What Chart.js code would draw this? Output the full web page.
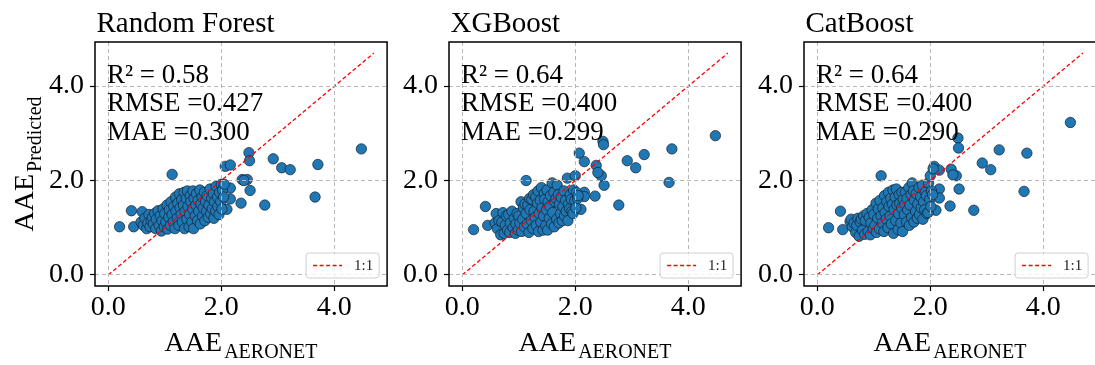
<!DOCTYPE html>
<html>
<head>
<meta charset="utf-8">
<script src="https://cdn.jsdelivr.net/npm/chart.js@4.4.0/dist/chart.umd.min.js"></script>
<style>
html,body{margin:0;padding:0;background:#fff;overflow:hidden;width:1095px;height:365px;}
.pn{position:absolute;top:0;width:393px;height:365px;}
canvas{display:block;}
</style>
</head>
<body>
<div class="pn" style="left:0px"><canvas id="c0" width="393" height="365"></canvas></div>
<div class="pn" style="left:354.3px"><canvas id="c1" width="393" height="365"></canvas></div>
<div class="pn" style="left:709px"><canvas id="c2" width="393" height="365"></canvas></div>
<script>
// ---- data ----
const modelNames = ['Random Forest', 'XGBoost', 'CatBoost'];
const r2Values   = ['0.58', '0.64', '0.64'];
const rmseValues = ['0.427', '0.400', '0.400'];
const maeValues  = ['0.300', '0.299', '0.290'];
const tickValues = [0, 2, 4];
const oneToOne   = [0, 4.7];
const axisMin = -0.235, axisMax = 4.935;

// observed AAE (shared x for all three models)
const aaeAeronet = [
  0.20, 0.41, 0.45, 1.13, 2.07, 2.16, 2.49, 2.50, 2.92, 3.07, 3.22, 3.71, 4.48, 3.66, 2.77, 2.51, 2.35, 2.37, 2.46, 2.16, 2.16, 2.10, 2.40,
  0.58, 0.60, 0.62, 0.65, 0.68, 0.70, 0.72, 0.74, 0.76, 0.78, 0.80, 0.82, 0.84, 0.85, 0.88, 0.90, 0.92, 0.94, 0.95, 0.97,
  0.99, 1.00, 1.02, 1.04, 1.05, 1.07, 1.08, 1.10, 1.11, 1.13, 1.15, 1.16, 1.18, 1.19, 1.20, 1.22, 1.23, 1.25, 1.26, 1.27,
  1.29, 1.30, 1.31, 1.33, 1.34, 1.35, 1.36, 1.38, 1.39, 1.40, 1.41, 1.43, 1.44, 1.45, 1.46, 1.48, 1.49, 1.50, 1.51, 1.52,
  1.54, 1.55, 1.56, 1.58, 1.59, 1.60, 1.62, 1.63, 1.64, 1.66, 1.67, 1.68, 1.70, 1.71, 1.72, 1.74, 1.75, 1.77, 1.78, 1.80,
  1.81, 1.83, 1.84, 1.86, 1.87, 1.88, 1.90, 1.91, 1.93, 1.94, 1.96, 1.97, 1.99, 2.00, 2.01, 2.02, 2.04, 2.05
];
const predRandomForest = [
  1.02, 1.36, 1.02, 2.13, 2.30, 2.33, 2.59, 2.42, 2.46, 2.27, 2.23, 2.34, 2.67, 1.65, 1.48, 1.79, 1.52, 2.02, 2.02, 1.84, 1.61, 1.39, 2.00,
  1.12, 1.34, 1.05, 1.20, 0.98, 1.10, 1.28, 1.02, 1.15, 1.22, 1.08, 1.30, 0.98, 1.18, 1.36, 1.05, 1.25, 0.93, 1.15, 1.40,
  1.02, 1.30, 1.12, 1.48, 0.97, 1.22, 1.38, 1.05, 1.55, 1.28, 1.12, 1.45, 0.98, 1.65, 1.35, 1.20, 1.52, 1.05, 1.72, 1.42,
  1.28, 1.60, 1.12, 1.48, 1.75, 0.98, 1.35, 1.62, 1.18, 1.78, 1.45, 1.02, 1.28, 1.68, 1.55, 1.12, 1.40, 1.78, 0.98, 1.62,
  1.25, 1.48, 1.72, 1.15, 1.58, 1.35, 1.80, 1.08, 1.50, 1.65, 1.25, 1.42, 1.75, 1.15, 1.55, 1.35, 1.68, 1.22, 1.48, 1.82,
  1.30, 1.62, 1.40, 1.72, 1.20, 1.55, 1.35, 1.88, 1.65, 1.45, 1.28, 1.75, 1.55, 1.92, 1.40, 1.80, 1.65, 1.92
];
const predXGBoost = [
  0.96, 1.45, 1.05, 2.00, 2.58, 2.40, 2.83, 2.76, 2.42, 2.27, 2.55, 2.67, 2.95, 1.96, 1.48, 1.90, 1.67, 2.32, 2.10, 1.75, 1.66, 1.39, 2.17,
  1.10, 1.30, 0.98, 1.15, 0.85, 1.12, 1.32, 0.88, 1.05, 1.25, 0.95, 1.28, 0.90, 1.10, 1.35, 1.00, 1.20, 0.88, 1.08, 1.30,
  0.95, 1.25, 1.10, 1.55, 0.92, 1.18, 1.42, 1.02, 1.50, 1.30, 1.08, 1.48, 0.90, 1.62, 1.38, 1.15, 1.60, 0.98, 1.70, 1.35,
  1.22, 1.65, 1.05, 1.52, 1.78, 0.92, 1.30, 1.58, 1.12, 1.85, 1.42, 0.95, 1.25, 1.72, 1.60, 1.05, 1.38, 1.80, 0.95, 1.55,
  1.20, 1.45, 1.68, 1.08, 1.95, 1.32, 1.75, 1.02, 1.55, 1.62, 1.18, 1.90, 1.70, 1.10, 1.50, 1.30, 1.65, 1.15, 1.45, 1.78,
  1.25, 1.58, 1.35, 2.05, 1.15, 1.50, 1.40, 1.70, 1.60, 1.35, 1.30, 1.80, 1.58, 2.10, 1.42, 1.75, 1.62, 1.68
];
const predCatBoost = [
  1.00, 1.35, 0.96, 2.10, 2.30, 2.22, 2.90, 2.69, 2.37, 2.23, 2.65, 2.58, 3.23, 1.77, 1.37, 1.82, 1.46, 2.24, 2.10, 1.82, 1.63, 1.37, 2.12,
  1.13, 1.18, 1.02, 1.10, 0.90, 1.05, 1.20, 0.82, 1.12, 1.18, 0.95, 1.25, 0.86, 1.15, 1.30, 0.92, 1.22, 0.85, 1.10, 1.38,
  0.98, 1.28, 1.05, 1.52, 0.90, 1.20, 1.40, 0.98, 1.58, 1.25, 1.10, 1.42, 0.92, 1.68, 1.32, 1.18, 1.55, 1.00, 1.75, 1.45,
  1.25, 1.62, 1.08, 1.50, 1.80, 0.88, 1.38, 1.65, 1.15, 1.82, 1.48, 0.96, 1.30, 1.70, 1.52, 1.10, 1.42, 1.75, 0.92, 1.60,
  1.28, 1.50, 1.75, 1.12, 1.62, 1.38, 1.85, 1.05, 1.48, 1.70, 1.22, 1.95, 1.78, 1.12, 1.58, 1.35, 1.72, 1.20, 1.50, 1.85,
  1.28, 1.65, 1.42, 1.90, 1.18, 1.55, 1.38, 1.75, 1.68, 1.30, 1.32, 1.95, 1.60, 2.10, 1.45, 1.78, 1.70, 2.25
];
const predictions = [predRandomForest, predXGBoost, predCatBoost];

// ---- drawing ----
const SERIF = '"Liberation Serif", "Times New Roman", serif';

const decor = {
  id: 'decor',
  afterDraw(chart, args, opts) {
    const {ctx, chartArea: ca} = chart;
    const i = opts.idx;
    ctx.save();
    // frame
    ctx.setLineDash([]);
    ctx.strokeStyle = '#000';
    ctx.lineWidth = 1.5;
    ctx.strokeRect(ca.left, ca.top, ca.right - ca.left, ca.bottom - ca.top);
    // title
    ctx.fillStyle = '#000';
    ctx.textAlign = 'left';
    ctx.textBaseline = 'alphabetic';
    ctx.font = '29px ' + SERIF;
    ctx.fillText(modelNames[i], ca.left + 1.5, 32);
    // stats text
    ctx.font = '27px ' + SERIF;
    const lines = ['R\u00B2 = ' + r2Values[i], 'RMSE =' + rmseValues[i], 'MAE =' + maeValues[i]];
    lines.forEach((t, k) => ctx.fillText(t, ca.left + 12, ca.top + 41 + k * 28.3));
    // legend
    const lw = 73, lh = 25;
    const lx = ca.right - 8 - lw, ly = ca.bottom - 8 - lh;
    ctx.beginPath();
    ctx.roundRect(lx, ly, lw, lh, 3);
    ctx.fillStyle = 'rgba(255,255,255,0.8)';
    ctx.fill();
    ctx.strokeStyle = '#d0d0d0';
    ctx.lineWidth = 1;
    ctx.stroke();
    ctx.beginPath();
    ctx.setLineDash([4, 2.5]);
    ctx.strokeStyle = '#ff0000';
    ctx.lineWidth = 1.3;
    ctx.moveTo(lx + 7, ly + lh / 2);
    ctx.lineTo(lx + 36, ly + lh / 2);
    ctx.stroke();
    ctx.setLineDash([]);
    ctx.fillStyle = '#222';
    ctx.font = '15px ' + SERIF;
    ctx.textBaseline = 'middle';
    ctx.fillText('1:1', lx + 48, ly + lh / 2 + 1);
    // x axis label
    ctx.fillStyle = '#000';
    ctx.textBaseline = 'alphabetic';
    ctx.font = '28px ' + SERIF;
    const w1 = ctx.measureText('AAE').width;
    ctx.font = '20px ' + SERIF;
    const w2 = ctx.measureText('AERONET').width;
    const cx = (ca.left + ca.right) / 2;
    const x0 = cx - (w1 + 2 + w2) / 2;
    ctx.font = '28px ' + SERIF;
    ctx.fillText('AAE', x0, 351);
    ctx.font = '20px ' + SERIF;
    ctx.fillText('AERONET', x0 + w1 + 2, 358);
    // y axis label (first panel only)
    if (i === 0) {
      ctx.font = '28px ' + SERIF;
      const v1 = ctx.measureText('AAE').width;
      ctx.font = '20px ' + SERIF;
      const v2 = ctx.measureText('Predicted').width;
      const cy = (ca.top + ca.bottom) / 2;
      ctx.translate(33, cy);
      ctx.rotate(-Math.PI / 2);
      const u0 = -(v1 + 2 + v2) / 2;
      ctx.font = '28px ' + SERIF;
      ctx.fillText('AAE', u0, 0);
      ctx.font = '20px ' + SERIF;
      ctx.fillText('Predicted', u0 + v1 + 2, 7.5);
    }
    ctx.restore();
  }
};

function axisCfg(axis) {
  return {
    type: 'linear',
    min: axisMin,
    max: axisMax,
    afterBuildTicks: (s) => { s.ticks = tickValues.map(v => ({value: v})); },
    afterFit: (s) => { if (axis === 'x') s.height = 79; else s.width = 95; },
    ticks: {
      color: '#000',
      font: {family: SERIF, size: 28},
      padding: axis === 'x' ? 0 : 6,
      callback: (v) => Number(v).toFixed(1)
    },
    grid: {
      color: '#b8b8b8',
      lineWidth: 1,
      borderDash: [4, 3],
      tickColor: '#000',
      tickWidth: 1.2,
      tickLength: 5,
      tickBorderDash: [],
      drawTicks: true,
      z: 1
    },
    border: {display: false, dash: [4, 3]}
  };
}

predictions.forEach((pred, i) => {
  const pts = aaeAeronet.map((x, k) => ({x: x, y: pred[k]}));
  new Chart(document.getElementById('c' + i), {
    type: 'scatter',
    data: {
      datasets: [
        {
          type: 'line',
          label: '1:1',
          data: [{x: oneToOne[0], y: oneToOne[0]}, {x: oneToOne[1], y: oneToOne[1]}],
          borderColor: '#ff0000',
          borderWidth: 1.3,
          borderDash: [4, 2.5],
          pointRadius: 0,
          fill: false
        },
        {
          label: modelNames[i],
          data: pts,
          backgroundColor: '#1f77b4',
          borderColor: '#15202b',
          borderWidth: 0.7,
          pointRadius: 5.2,
          pointHoverRadius: 5.2
        }
      ]
    },
    options: {
      responsive: false,
      animation: false,
      devicePixelRatio: 1,
      layout: {padding: {top: 42, right: 2, left: 0, bottom: 0}},
      plugins: {
        legend: {display: false},
        tooltip: {enabled: false},
        title: {display: false},
        decor: {idx: i}
      },
      scales: {x: axisCfg('x'), y: axisCfg('y')}
    },
    plugins: [decor]
  });
});
</script>
</body>
</html>
